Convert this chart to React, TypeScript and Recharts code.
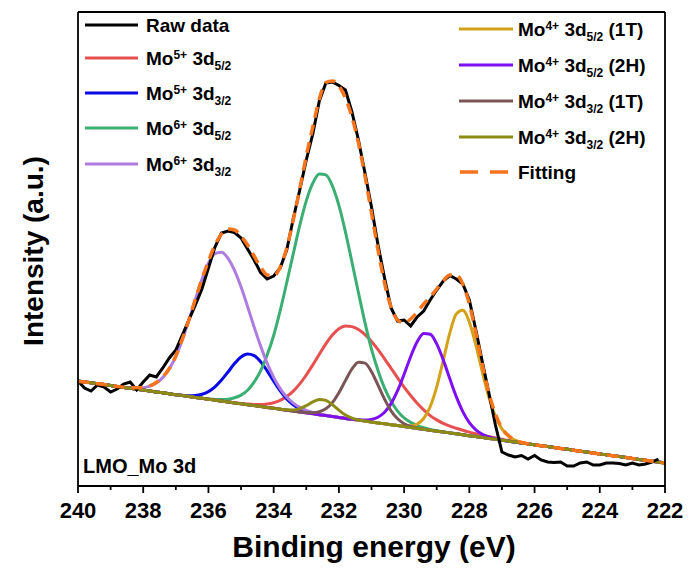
import { LineChart, Line, XAxis, YAxis } from 'recharts';

const FONT = 'Arial, "Liberation Sans", Helvetica, sans-serif';

// Binding energy grid (eV), 0.2 eV steps
const bindingEnergy = [
  240, 239.8, 239.6, 239.4, 239.2, 239, 238.8, 238.6, 238.4, 238.2,
  238, 237.8, 237.6, 237.4, 237.2, 237, 236.8, 236.6, 236.4, 236.2,
  236, 235.8, 235.6, 235.4, 235.2, 235, 234.8, 234.6, 234.4, 234.2,
  234, 233.8, 233.6, 233.4, 233.2, 233, 232.8, 232.6, 232.4, 232.2,
  232, 231.8, 231.6, 231.4, 231.2, 231, 230.8, 230.6, 230.4, 230.2,
  230, 229.8, 229.6, 229.4, 229.2, 229, 228.8, 228.6, 228.4, 228.2,
  228, 227.8, 227.6, 227.4, 227.2, 227, 226.8, 226.6, 226.4, 226.2,
  226, 225.8, 225.6, 225.4, 225.2, 225, 224.8, 224.6, 224.4, 224.2,
  224, 223.8, 223.6, 223.4, 223.2, 223, 222.8, 222.6, 222.4, 222.2,
  222,
];

const energyTicks = [240, 239, 238, 237, 236, 235, 234, 233, 232, 231, 230, 229, 228, 227, 226, 225, 224, 223, 222];

// measured spectrum (a.u.)
const rawData = [
  105, 98, 95, 101, 99, 94, 97, 102, 104, 96,
  104, 111, 109, 118, 128, 136, 151, 166, 181, 197,
  218, 239, 253, 255, 253.5, 248, 237, 226, 213.5, 207,
  210, 218, 236, 267, 296, 326, 352, 385, 403, 404,
  400.5, 396, 374, 346, 313, 279, 241, 208, 178, 165,
  166, 160, 169, 175, 186, 196, 205, 210.5, 207, 202,
  186, 156, 124, 93, 61, 34, 31, 29, 30.5, 27,
  30.5, 26, 24, 23.5, 24, 20, 20, 23, 24, 21,
  21, 23, 23, 22.5, 21, 23, 21, 22, 24, 27,
  null,
];

// fitted envelope
const fitting = [
  104.5, 104, 103.2, 102.3, 101.4, 100.5, 99.6, 98.8, 98.5, 98.3,
  98.6, 100.2, 103.5, 109, 117.5, 130, 147, 166, 187, 207,
  225, 241, 252, 257, 256, 250, 241, 230, 219, 211,
  210, 219, 238, 266, 297, 330, 359, 387, 403.5, 405,
  400, 388, 369, 343, 310, 273, 236, 203, 179, 166,
  163, 167, 174, 182, 189, 197, 205, 211, 211, 202,
  182, 153, 121, 93, 72, 58, 50.4, 45.9, 43.6, 42.2,
  41.2, 40.3, 39.4, 38.5, 37.6, 36.7, 35.8, 34.8, 33.9, 33.0,
  32.1, 31.2, 30.3, 29.4, 28.5, 27.6, 26.6, 25.7, 24.8, 23.9,
  23.0,
];

// linear background under the peaks
const background = [
  105.0, 104.1, 103.2, 102.3, 101.4, 100.4, 99.5, 98.6, 97.7, 96.8,
  95.9, 95.0, 94.1, 93.2, 92.2, 91.3, 90.4, 89.5, 88.6, 87.7,
  86.8, 85.9, 85.0, 84.0, 83.1, 82.2, 81.3, 80.4, 79.5, 78.6,
  77.7, 76.8, 75.8, 74.9, 74.0, 73.1, 72.2, 71.3, 70.4, 69.5,
  68.6, 67.6, 66.7, 65.8, 64.9, 64.0, 63.1, 62.2, 61.3, 60.4,
  59.4, 58.5, 57.6, 56.7, 55.8, 54.9, 54.0, 53.1, 52.2, 51.2,
  50.3, 49.4, 48.5, 47.6, 46.7, 45.8, 44.9, 44.0, 43.0, 42.1,
  41.2, 40.3, 39.4, 38.5, 37.6, 36.7, 35.8, 34.8, 33.9, 33.0,
  32.1, 31.2, 30.3, 29.4, 28.5, 27.6, 26.6, 25.7, 24.8, 23.9,
  23.0,
];

// fitted components, height above background
const mo5Plus52 = [
  0, 0, 0, 0, 0, 0, 0, 0, 0, 0,
  0, 0, 0, 0, 0, 0, 0, 0, 0, 0,
  0, 0, 0, 0, 0, 0.3, 0.6, 1.1, 1.9, 3.4,
  5.6, 8.9, 13.6, 20.0, 28.1, 37.9, 48.9, 60.5, 71.7, 81.4,
  88.7, 92.5, 92.7, 90.6, 86.4, 80.5, 73.2, 65.0, 56.4, 47.8,
  39.5, 32.0, 25.2, 19.5, 14.6, 11.2, 8.6, 6.8, 5.5, 4.5,
  3.6, 2.9, 2.3, 1.8, 1.3, 0.9, 0.6, 0.3, 0, 0,
  0, 0, 0, 0, 0, 0, 0, 0, 0, 0,
  0, 0, 0, 0, 0, 0, 0, 0, 0, 0,
  0,
];

const mo5Plus32 = [
  0, 0, 0, 0, 0, 0, 0, 0, 0, 0,
  0, 0, 0, 0, 0, 0, 0.3, 0.8, 1.9, 4.0,
  7.6, 13.2, 20.9, 30.0, 39.3, 46.8, 50.7, 50.0, 44.8, 36.6,
  27.1, 18.3, 11.3, 6.3, 3.2, 1.5, 0.6, 0, 0, 0,
  0, 0, 0, 0, 0, 0, 0, 0, 0, 0,
  0, 0, 0, 0, 0, 0, 0, 0, 0, 0,
  0, 0, 0, 0, 0, 0, 0, 0, 0, 0,
  0, 0, 0, 0, 0, 0, 0, 0, 0, 0,
  0, 0, 0, 0, 0, 0, 0, 0, 0, 0,
  0,
];

const mo6Plus52 = [
  0, 0, 0, 0, 0, 0, 0, 0, 0, 0,
  0, 0, 0, 0, 0, 0, 0, 0, 0, 0,
  0.3, 0.7, 1.5, 2.8, 5.1, 8.7, 14.5, 23.5, 35.6, 52.3,
  72.8, 98.5, 127.5, 157.3, 186.6, 212, 230.6, 240.7, 240.7, 230.6,
  212, 186.6, 157.3, 127.5, 98.5, 72.8, 52.3, 35.6, 23.5, 14.5,
  8.7, 5.1, 2.8, 1.5, 0.7, 0.3, 0, 0, 0, 0,
  0, 0, 0, 0, 0, 0, 0, 0, 0, 0,
  0, 0, 0, 0, 0, 0, 0, 0, 0, 0,
  0, 0, 0, 0, 0, 0, 0, 0, 0, 0,
  0,
];

const mo6Plus32 = [
  0, 0, 0, 0, 0, 0, 0, 0, 0.5, 1.2,
  2.4, 4.8, 8.8, 15.3, 25.0, 38.4, 55.8, 76.1, 98.0, 118.9,
  136.0, 146.5, 148.8, 143.7, 132.5, 116.7, 98.2, 78.7, 60.4, 44.2,
  30.9, 20.6, 13.1, 8.0, 4.6, 2.6, 1.4, 0.7, 0.3, 0,
  0, 0, 0, 0, 0, 0, 0, 0, 0, 0,
  0, 0, 0, 0, 0, 0, 0, 0, 0, 0,
  0, 0, 0, 0, 0, 0, 0, 0, 0, 0,
  0, 0, 0, 0, 0, 0, 0, 0, 0, 0,
  0, 0, 0, 0, 0, 0, 0, 0, 0, 0,
  0,
];

const mo4Plus52_1T = [
  0, 0, 0, 0, 0, 0, 0, 0, 0, 0,
  0, 0, 0, 0, 0, 0, 0, 0, 0, 0,
  0, 0, 0, 0, 0, 0, 0, 0, 0, 0,
  0, 0, 0, 0, 0, 0, 0, 0, 0, 0,
  0, 0, 0, 0, 0, 0, 0, 0, 0, 0,
  0.4, 1.5, 4.3, 10.8, 23.5, 44.2, 71.5, 99.7, 119.9, 124.5,
  113.6, 91.5, 65.2, 41.1, 22.9, 11.3, 4.9, 1.9, 0.6, 0,
  0, 0, 0, 0, 0, 0, 0, 0, 0, 0,
  0, 0, 0, 0, 0, 0, 0, 0, 0, 0,
  0,
];

const mo4Plus52_2H = [
  0, 0, 0, 0, 0, 0, 0, 0, 0, 0,
  0, 0, 0, 0, 0, 0, 0, 0, 0, 0,
  0, 0, 0, 0, 0, 0, 0, 0, 0, 0,
  0, 0, 0, 0, 0, 0, 0, 0, 0, 0,
  0, 0, 0.1, 0.4, 1.0, 2.6, 5.7, 11.5, 21.1, 34.9,
  52.3, 70.8, 86.6, 95.8, 95.9, 87.2, 72.1, 54.3, 37.2, 23.2,
  13.1, 6.8, 3.2, 1.4, 0.5, 0, 0, 0, 0, 0,
  0, 0, 0, 0, 0, 0, 0, 0, 0, 0,
  0, 0, 0, 0, 0, 0, 0, 0, 0, 0,
  0,
];

const mo4Plus32_1T = [
  0, 0, 0, 0, 0, 0, 0, 0, 0, 0,
  0, 0, 0, 0, 0, 0, 0, 0, 0, 0,
  0, 0, 0, 0, 0, 0, 0, 0, 0, 0,
  0, 0, 0, 0, 0, 0.3, 1.1, 2.9, 6.8, 13.9,
  24.7, 37.8, 50.3, 58.0, 58.0, 50.3, 37.8, 24.7, 13.9, 6.8,
  2.9, 1.1, 0.3, 0, 0, 0, 0, 0, 0, 0,
  0, 0, 0, 0, 0, 0, 0, 0, 0, 0,
  0, 0, 0, 0, 0, 0, 0, 0, 0, 0,
  0, 0, 0, 0, 0, 0, 0, 0, 0, 0,
  0,
];

const mo4Plus32_2H = [
  0, 0, 0, 0, 0, 0, 0, 0, 0, 0,
  0, 0, 0, 0, 0, 0, 0, 0, 0, 0,
  0, 0, 0, 0, 0, 0, 0, 0, 0, 0,
  0, 0, 0.4, 1.2, 3.4, 7.2, 11.9, 15.2, 15.2, 11.9,
  7.2, 3.4, 1.2, 0.4, 0, 0, 0, 0, 0, 0,
  0, 0, 0, 0, 0, 0, 0, 0, 0, 0,
  0, 0, 0, 0, 0, 0, 0, 0, 0, 0,
  0, 0, 0, 0, 0, 0, 0, 0, 0, 0,
  0, 0, 0, 0, 0, 0, 0, 0, 0, 0,
  0,
];

type Label = { ion: string; level: string; phase?: string };

const components: { key: string; values: number[]; color: string; label: Label }[] = [
  { key: 'mo5_52', values: mo5Plus52, color: '#E8504F', label: { ion: '5+', level: '5/2' } },
  { key: 'mo5_32', values: mo5Plus32, color: '#0A0AE6', label: { ion: '5+', level: '3/2' } },
  { key: 'mo6_52', values: mo6Plus52, color: '#3BAF73', label: { ion: '6+', level: '5/2' } },
  { key: 'mo6_32', values: mo6Plus32, color: '#AE7BE0', label: { ion: '6+', level: '3/2' } },
  { key: 'mo4_52_1T', values: mo4Plus52_1T, color: '#D4A11A', label: { ion: '4+', level: '5/2', phase: '1T' } },
  { key: 'mo4_52_2H', values: mo4Plus52_2H, color: '#7D0FF2', label: { ion: '4+', level: '5/2', phase: '2H' } },
  { key: 'mo4_32_1T', values: mo4Plus32_1T, color: '#7B5456', label: { ion: '4+', level: '3/2', phase: '1T' } },
  { key: 'mo4_32_2H', values: mo4Plus32_2H, color: '#8C8C14', label: { ion: '4+', level: '3/2', phase: '2H' } },
];

const RAW_COLOR = '#000000';
const FIT_COLOR = '#F5741C';

const chartData = bindingEnergy.map((energy, i) => {
  const row: Record<string, number | null> = { energy, raw: rawData[i], fit: fitting[i] };
  components.forEach((c) => {
    row[c.key] = background[i] + c.values[i];
  });
  return row;
});

function EnergyTick(props: any) {
  const { x, y, payload } = props;
  const major = payload.value % 2 === 0;
  return (
    <g>
      <line x1={x} x2={x} y1={y} y2={y + (major ? 7 : 4)} stroke="#000" strokeWidth={1.8} />
      {major && (
        <text x={x} y={y + 32} textAnchor="middle" fontFamily={FONT} fontWeight="bold" fontSize={22} fill="#000">
          {payload.value}
        </text>
      )}
    </g>
  );
}

function MoLabel({ x, y, label }: { x: number; y: number; label: Label }) {
  return (
    <text x={x} y={y} fontFamily={FONT} fontWeight="bold" fontSize={19} fill="#000" style={{ whiteSpace: 'pre' }}>
      Mo
      <tspan fontSize={12} dy={-5.5}>{label.ion}</tspan>
      <tspan dy={5.5}>{' 3d'}</tspan>
      <tspan fontSize={12} dy={5}>{label.level}</tspan>
      {label.phase && <tspan dy={-5}>{` (${label.phase})`}</tspan>}
    </text>
  );
}

const leftRows = [25, 58, 93, 128, 164];
const rightRows = [29, 65, 101, 137, 172];

function Legend() {
  const left = components.slice(0, 4);
  const right = components.slice(4);
  return (
    <g>
      <line x1={85} x2={138} y1={leftRows[0]} y2={leftRows[0]} stroke={RAW_COLOR} strokeWidth={3} />
      <text x={146} y={leftRows[0] + 6.8} fontFamily={FONT} fontWeight="bold" fontSize={19} fill="#000">
        Raw data
      </text>
      {left.map((c, i) => (
        <g key={c.key}>
          <line x1={85} x2={138} y1={leftRows[i + 1]} y2={leftRows[i + 1]} stroke={c.color} strokeWidth={3} />
          <MoLabel x={146} y={leftRows[i + 1] + 6.8} label={c.label} />
        </g>
      ))}
      {right.map((c, i) => (
        <g key={c.key}>
          <line x1={459} x2={513} y1={rightRows[i]} y2={rightRows[i]} stroke={c.color} strokeWidth={3} />
          <MoLabel x={518} y={rightRows[i] + 6.8} label={c.label} />
        </g>
      ))}
      <line x1={460} x2={508} y1={rightRows[4]} y2={rightRows[4]} stroke={FIT_COLOR} strokeWidth={3.5} strokeDasharray="18 12" />
      <text x={518} y={rightRows[4] + 6.8} fontFamily={FONT} fontWeight="bold" fontSize={19} fill="#000">
        Fitting
      </text>
    </g>
  );
}

const axisLine = { stroke: '#000', strokeWidth: 1.8 };

export default function App() {
  return (
    <div style={{ position: 'absolute', left: 0, top: 0, width: 692, height: 574, background: '#fff' }}>
      <LineChart width={692} height={574} data={chartData} margin={{ top: 0, right: 0, bottom: 0, left: 0 }}>
        <XAxis
          dataKey="energy"
          type="number"
          domain={[222, 240]}
          reversed
          allowDataOverflow
          ticks={energyTicks}
          interval={0}
          height={88}
          tickSize={0}
          tickMargin={0}
          tickLine={false}
          axisLine={axisLine}
          tick={<EnergyTick />}
        />
        <XAxis
          xAxisId="top"
          orientation="top"
          type="number"
          domain={[222, 240]}
          reversed
          height={12}
          tick={false}
          tickLine={false}
          axisLine={axisLine}
        />
        <YAxis domain={[0, 474]} allowDataOverflow width={78} tick={false} tickLine={false} axisLine={axisLine} />
        <YAxis yAxisId="right" orientation="right" domain={[0, 474]} width={27} tick={false} tickLine={false} axisLine={axisLine} />
        {components.map((c) => (
          <Line
            key={c.key}
            dataKey={c.key}
            type="monotone"
            stroke={c.color}
            strokeWidth={3}
            dot={false}
            activeDot={false}
            isAnimationActive={false}
          />
        ))}
        <Line dataKey="raw" type="linear" stroke={RAW_COLOR} strokeWidth={3} dot={false} activeDot={false} isAnimationActive={false} />
        <Line
          dataKey="fit"
          type="monotone"
          stroke={FIT_COLOR}
          strokeWidth={3.5}
          strokeDasharray="11 7"
          dot={false}
          activeDot={false}
          isAnimationActive={false}
        />
      </LineChart>
      <svg width={692} height={574} style={{ position: 'absolute', left: 0, top: 0, pointerEvents: 'none' }}>
        <Legend />
        <text x={83} y={473} fontFamily={FONT} fontWeight="bold" fontSize={20} fill="#000">
          LMO_Mo 3d
        </text>
        <text x={374} y={557} textAnchor="middle" fontFamily={FONT} fontWeight="bold" fontSize={30} fill="#000">
          Binding energy (eV)
        </text>
        <text
          transform="translate(43,251) rotate(-90)"
          textAnchor="middle"
          fontFamily={FONT}
          fontWeight="bold"
          fontSize={28}
          fill="#000"
        >
          Intensity (a.u.)
        </text>
      </svg>
    </div>
  );
}
